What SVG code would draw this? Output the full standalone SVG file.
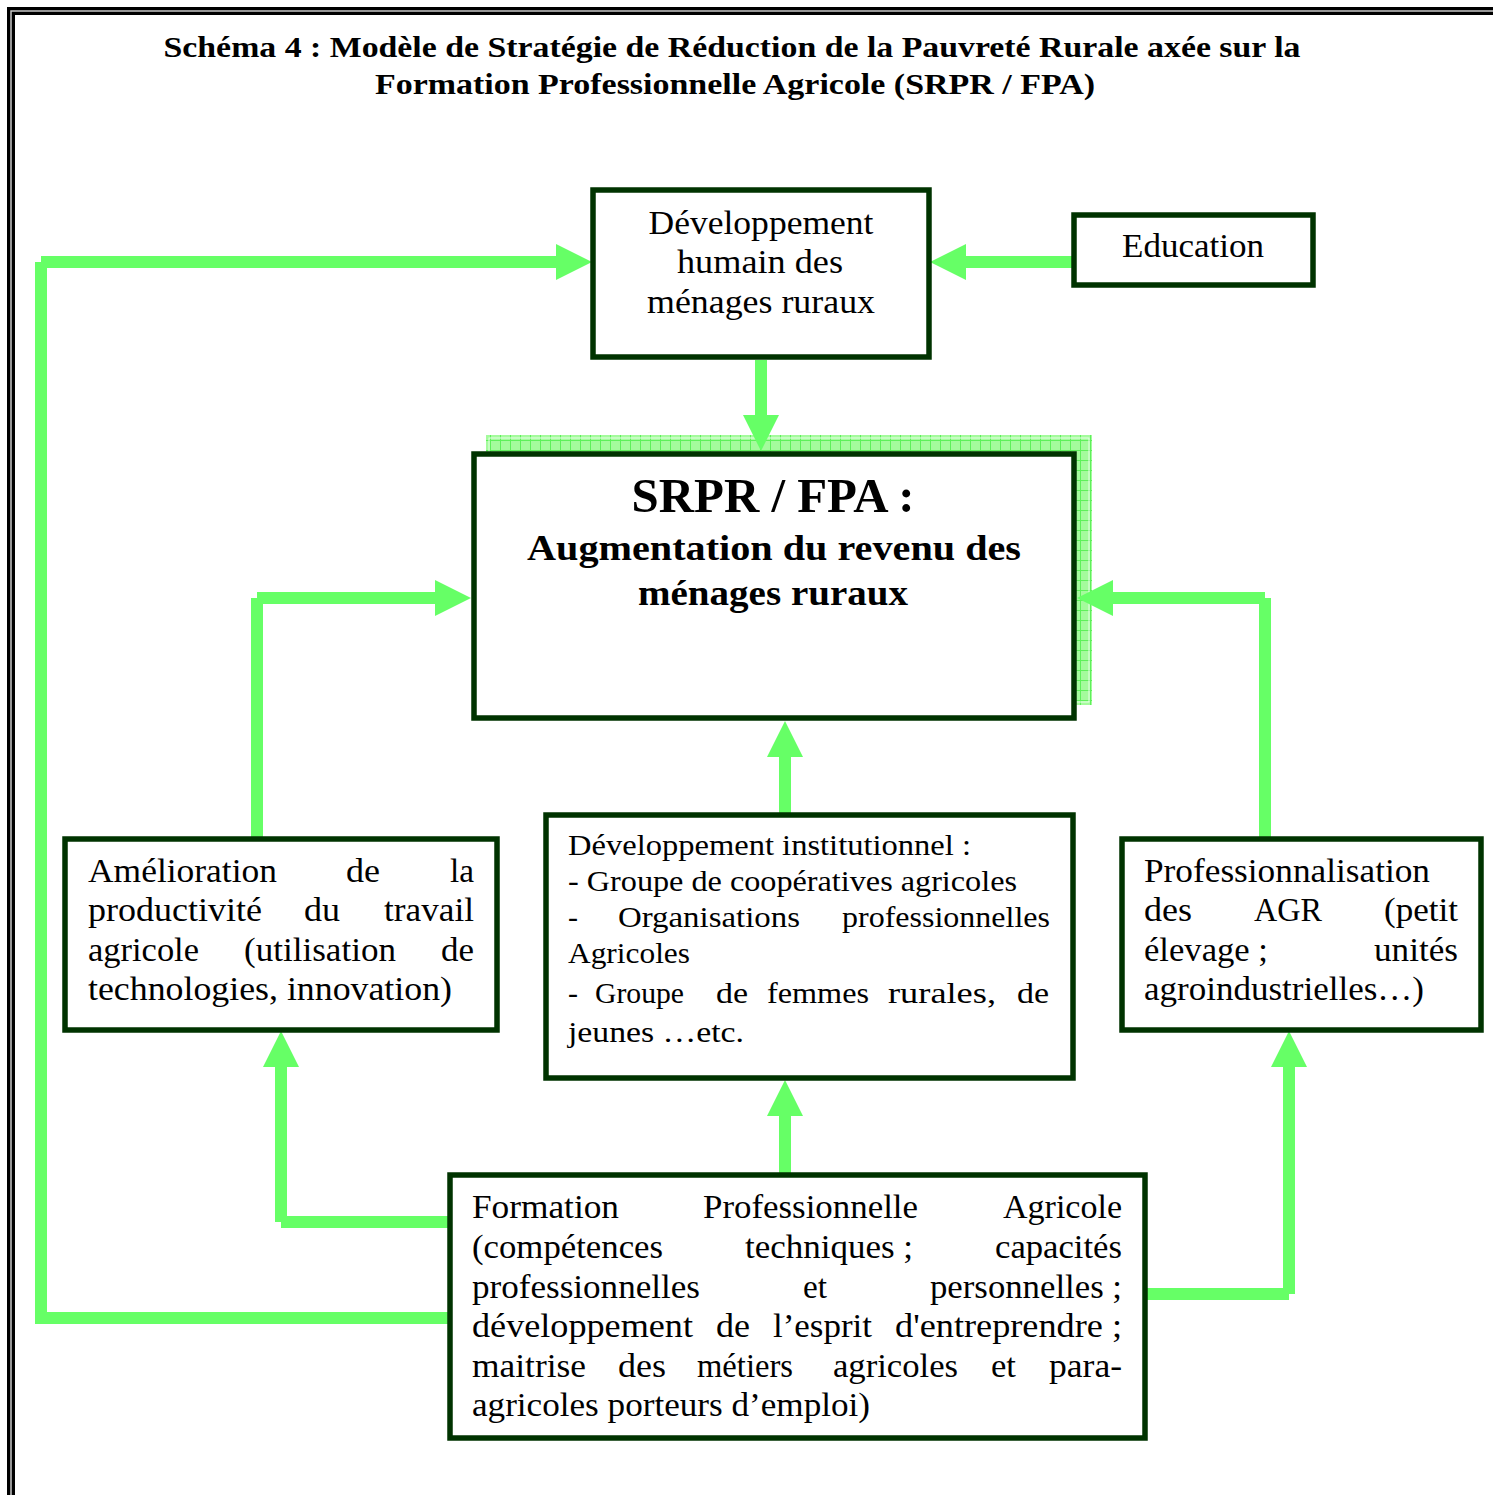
<svg xmlns="http://www.w3.org/2000/svg" width="1493" height="1495" viewBox="0 0 1493 1495">
<style>
.box{fill:#fff;stroke:#003300;stroke-width:5.5}
.con{fill:none;stroke:#66ff66;stroke-width:12;stroke-linecap:butt}
.t{font-family:"Liberation Serif","Times New Roman",serif;fill:#000}
.b{font-size:33px}
.s{font-size:30px}
.bold{font-weight:bold}
</style>
<defs>
<marker id="ah" markerUnits="userSpaceOnUse" markerWidth="36" markerHeight="36" viewBox="0 0 36 36" refX="4" refY="18" orient="auto">
<path d="M0,0 L36,18 L0,36 z" fill="#66ff66"/>
</marker>
<pattern id="grid" patternUnits="userSpaceOnUse" width="10" height="10">
<rect width="10" height="10" fill="#a4fb9c"/>
<path d="M0,0.5 H10 M0.5,0 V10" stroke="#5ef05a" stroke-width="1"/>
</pattern>
</defs>
<rect width="1493" height="1495" fill="#fff"/>
<g id="frame">
<rect x="11" y="11" width="1500" height="1500" fill="none" stroke="#000" stroke-width="8"/>
<rect x="11" y="11" width="1500" height="1500" fill="none" stroke="#c8c8c8" stroke-width="1.5"/>
</g>
<g id="title" class="t bold" font-size="30">
<text x="732" y="57" text-anchor="middle" textLength="1137" lengthAdjust="spacingAndGlyphs">Schéma 4 : Modèle de Stratégie de Réduction de la Pauvreté Rurale axée sur la</text>
<text x="735" y="94" text-anchor="middle" textLength="720" lengthAdjust="spacingAndGlyphs">Formation Professionnelle Agricole (SRPR / FPA)</text>
</g>
<g id="srpr">
<rect x="486" y="435" width="606" height="270" fill="url(#grid)"/>
<rect x="489" y="438" width="600" height="264" fill="none" stroke="#e8ffe8" stroke-width="1"/>
<rect class="box" x="474" y="454" width="600" height="264"/>
<g class="t bold" text-anchor="middle">
<text x="773" y="512" font-size="48" textLength="283" lengthAdjust="spacingAndGlyphs">SRPR / FPA :</text>
<text x="774" y="560" font-size="36" textLength="494" lengthAdjust="spacingAndGlyphs">Augmentation du revenu des</text>
<text x="773" y="605" font-size="36" textLength="270" lengthAdjust="spacingAndGlyphs">ménages ruraux</text>
</g>
</g>
<g id="connectors">
<path class="con" d="M41,1324 V262"/>
<path class="con" d="M449,1318 H41"/>
<path class="con" d="M41,262 H560" marker-end="url(#ah)"/>
<path class="con" d="M1072,262 H962" marker-end="url(#ah)"/>
<path class="con" d="M761,360 V419" marker-end="url(#ah)"/>
<path class="con" d="M257,838 V598"/>
<path class="con" d="M257,598 H439" marker-end="url(#ah)"/>
<path class="con" d="M1265,838 V598"/>
<path class="con" d="M1265,598 H1109" marker-end="url(#ah)"/>
<path class="con" d="M785,813 V753" marker-end="url(#ah)"/>
<path class="con" d="M785,1174 V1112" marker-end="url(#ah)"/>
<path class="con" d="M449,1222 H281"/>
<path class="con" d="M281,1222 V1063" marker-end="url(#ah)"/>
<path class="con" d="M1146,1294 H1289"/>
<path class="con" d="M1289,1294 V1063" marker-end="url(#ah)"/>
</g>
<g id="dev-humain">
<rect class="box" x="593" y="190" width="336" height="167"/>
<g class="t b" text-anchor="middle">
<text x="761" y="234" textLength="225" lengthAdjust="spacingAndGlyphs">Développement</text>
<text x="760" y="273" textLength="166" lengthAdjust="spacingAndGlyphs">humain des</text>
<text x="761" y="313" textLength="228" lengthAdjust="spacingAndGlyphs">ménages ruraux</text>
</g>
</g>
<g id="education">
<rect class="box" x="1074" y="215" width="239" height="70"/>
<text class="t b" x="1122" y="257" textLength="142" lengthAdjust="spacingAndGlyphs">Education</text>
</g>
<g id="amelioration">
<rect class="box" x="65" y="839" width="432" height="191"/>
<g class="t b">
<text x="88" y="882" textLength="189" lengthAdjust="spacingAndGlyphs">Amélioration</text>
<text x="346" y="882" textLength="34" lengthAdjust="spacingAndGlyphs">de</text>
<text x="450" y="882" textLength="24" lengthAdjust="spacingAndGlyphs">la</text>
<text x="88" y="921" textLength="174" lengthAdjust="spacingAndGlyphs">productivité</text>
<text x="304" y="921" textLength="36" lengthAdjust="spacingAndGlyphs">du</text>
<text x="384" y="921" textLength="90" lengthAdjust="spacingAndGlyphs">travail</text>
<text x="88" y="961" textLength="111" lengthAdjust="spacingAndGlyphs">agricole</text>
<text x="244" y="961" textLength="152" lengthAdjust="spacingAndGlyphs">(utilisation</text>
<text x="441" y="961" textLength="33" lengthAdjust="spacingAndGlyphs">de</text>
<text x="88" y="1000" textLength="364" lengthAdjust="spacingAndGlyphs">technologies,  innovation)</text>
</g>
</g>
<g id="dev-institutionnel">
<rect class="box" x="546" y="815" width="527" height="263"/>
<g class="t s">
<text x="568" y="855" textLength="403" lengthAdjust="spacingAndGlyphs">Développement institutionnel :</text>
<text x="568" y="891" textLength="449" lengthAdjust="spacingAndGlyphs">- Groupe de coopératives agricoles</text>
<text x="568" y="927">-</text>
<text x="618" y="927" textLength="182" lengthAdjust="spacingAndGlyphs">Organisations</text>
<text x="842" y="927" textLength="208" lengthAdjust="spacingAndGlyphs">professionnelles</text>
<text x="568" y="963" textLength="122" lengthAdjust="spacingAndGlyphs">Agricoles</text>
<text x="568" y="1003">-</text>
<text x="595" y="1003" textLength="89" lengthAdjust="spacingAndGlyphs">Groupe</text>
<text x="716" y="1003" textLength="32" lengthAdjust="spacingAndGlyphs">de</text>
<text x="767" y="1003" textLength="102" lengthAdjust="spacingAndGlyphs">femmes</text>
<text x="888" y="1003" textLength="108" lengthAdjust="spacingAndGlyphs">rurales,</text>
<text x="1017" y="1003" textLength="32" lengthAdjust="spacingAndGlyphs">de</text>
<text x="568" y="1042" textLength="176" lengthAdjust="spacingAndGlyphs">jeunes …etc.</text>
</g>
</g>
<g id="professionnalisation">
<rect class="box" x="1122" y="839" width="359" height="191"/>
<g class="t b">
<text x="1144" y="882" textLength="286" lengthAdjust="spacingAndGlyphs">Professionnalisation</text>
<text x="1144" y="921" textLength="48" lengthAdjust="spacingAndGlyphs">des</text>
<text x="1254" y="921" textLength="68" lengthAdjust="spacingAndGlyphs">AGR</text>
<text x="1384" y="921" textLength="74" lengthAdjust="spacingAndGlyphs">(petit</text>
<text x="1144" y="961" textLength="124" lengthAdjust="spacingAndGlyphs">élevage ;</text>
<text x="1374" y="961" textLength="84" lengthAdjust="spacingAndGlyphs">unités</text>
<text x="1144" y="1000" textLength="280" lengthAdjust="spacingAndGlyphs">agroindustrielles…)</text>
</g>
</g>
<g id="formation">
<rect class="box" x="450" y="1175" width="695" height="263"/>
<g class="t b">
<text x="472" y="1218" textLength="147" lengthAdjust="spacingAndGlyphs">Formation</text>
<text x="703" y="1218" textLength="215" lengthAdjust="spacingAndGlyphs">Professionnelle</text>
<text x="1003" y="1218" textLength="119" lengthAdjust="spacingAndGlyphs">Agricole</text>
<text x="472" y="1258" textLength="191" lengthAdjust="spacingAndGlyphs">(compétences</text>
<text x="745" y="1258" textLength="168" lengthAdjust="spacingAndGlyphs">techniques ;</text>
<text x="995" y="1258" textLength="127" lengthAdjust="spacingAndGlyphs">capacités</text>
<text x="472" y="1298" textLength="228" lengthAdjust="spacingAndGlyphs">professionnelles</text>
<text x="803" y="1298" textLength="24" lengthAdjust="spacingAndGlyphs">et</text>
<text x="930" y="1298" textLength="192" lengthAdjust="spacingAndGlyphs">personnelles ;</text>
<text x="472" y="1337" textLength="221" lengthAdjust="spacingAndGlyphs">développement</text>
<text x="716" y="1337" textLength="34" lengthAdjust="spacingAndGlyphs">de</text>
<text x="773" y="1337" textLength="99" lengthAdjust="spacingAndGlyphs">l’esprit</text>
<text x="895" y="1337" textLength="227" lengthAdjust="spacingAndGlyphs">d'entreprendre ;</text>
<text x="472" y="1377" textLength="114" lengthAdjust="spacingAndGlyphs">maitrise</text>
<text x="618" y="1377" textLength="48" lengthAdjust="spacingAndGlyphs">des</text>
<text x="697" y="1377" textLength="96" lengthAdjust="spacingAndGlyphs">métiers</text>
<text x="833" y="1377" textLength="125" lengthAdjust="spacingAndGlyphs">agricoles</text>
<text x="991" y="1377" textLength="25" lengthAdjust="spacingAndGlyphs">et</text>
<text x="1049" y="1377" textLength="73" lengthAdjust="spacingAndGlyphs">para-</text>
<text x="472" y="1416" textLength="398" lengthAdjust="spacingAndGlyphs">agricoles porteurs d’emploi)</text>
</g>
</g>
</svg>
